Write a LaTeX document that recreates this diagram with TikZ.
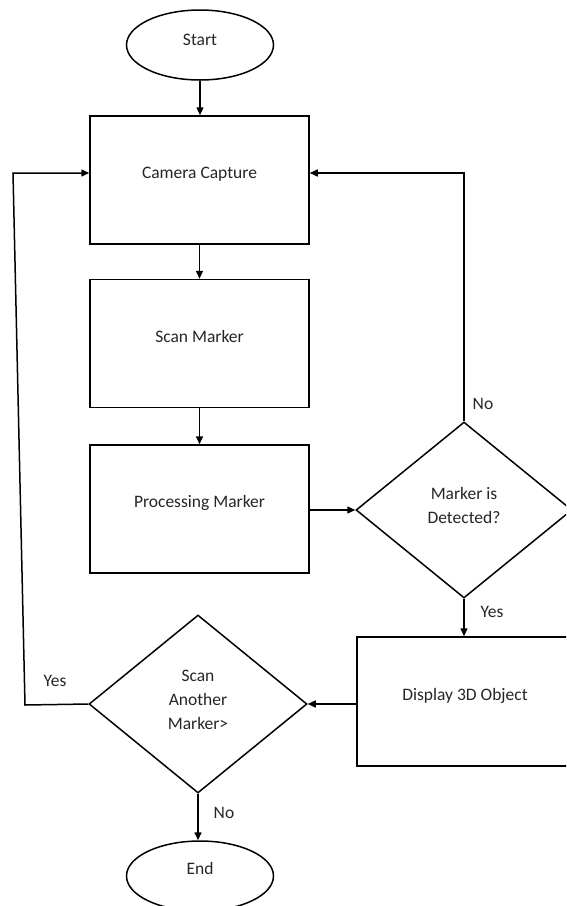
\documentclass[tikz,border=0pt]{standalone}
\usepackage{fontspec}
\setmainfont{Carlito}
\usetikzlibrary{shapes.geometric,arrows.meta}
\begin{document}
\begin{tikzpicture}[x=1pt,y=-1pt,
  every node/.style={font=\fontsize{17.5}{24}\selectfont, text=black!85},
  line/.style={line width=1.5pt, draw=black},
  arr/.style={line, line join=miter, -{Triangle[length=8pt,width=7pt]}},
  procbox/.style={draw, line width=1.5pt, rectangle, minimum width=219pt, minimum height=128pt, text height=12.5pt, text depth=15.5pt, inner sep=0pt},
  term/.style={draw, line width=1.5pt, ellipse, minimum width=147pt, minimum height=70pt, inner sep=0pt, text height=12.5pt},
  decision/.style={draw, line width=1.5pt, diamond, inner sep=0pt, align=center}
]
\useasboundingbox (0,0) rectangle (566,906);
\clip (0,0) rectangle (566,906);
\fill[white] (0,0) rectangle (566,906);

\node[term, text depth=11.5pt] (start) at (200,45) {Start};
\node[procbox] (cc) at (199.5,180) {Camera Capture};
\node[procbox] (sm) at (199.5,343.5) {Scan Marker};
\node[procbox] (pm) at (199.5,509) {Processing Marker};
\node[decision, minimum width=216pt, minimum height=176pt, text depth=10pt] (dd) at (464,510) {Marker is\\Detected?};
\node[procbox, minimum width=216pt, minimum height=129pt] (dm) at (465,701.5) {Display 3D Object};
\node[decision, minimum width=218pt, minimum height=178pt, text depth=8pt] (sa) at (198,704) {Scan\\Another\\Marker>};
\node[term, text depth=15.5pt] (end) at (200,876) {End};

\node (no1) at (483,404) {No};
\node (yes1) at (492,612) {Yes};
\node (yes2) at (55,681) {Yes};
\node (no2) at (224,813) {No};

\coordinate (rt) at (464,173);
\coordinate (lb) at (25,705);
\coordinate (lt) at (13,173);

\draw[arr] (start.south) -- (start.south |- cc.north);
\draw[arr] (cc.south) -- (sm.north);
\draw[arr] (sm.south) -- (pm.north);
\draw[arr] (pm.east |- dd.west) -- (dd.west);
\draw[arr] (dd.south) -- (dd.south |- dm.north);
\draw[arr] (dm.west |- sa.east) -- (sa.east);
\draw[arr] (sa.south) -- (sa.south |- end.north);
\draw[arr] (dd.north) -- (rt) -- (cc.east |- rt);
\draw[arr] (sa.west) -- (lb) -- (lt) -- (cc.west |- lt);
\end{tikzpicture}
\end{document}
